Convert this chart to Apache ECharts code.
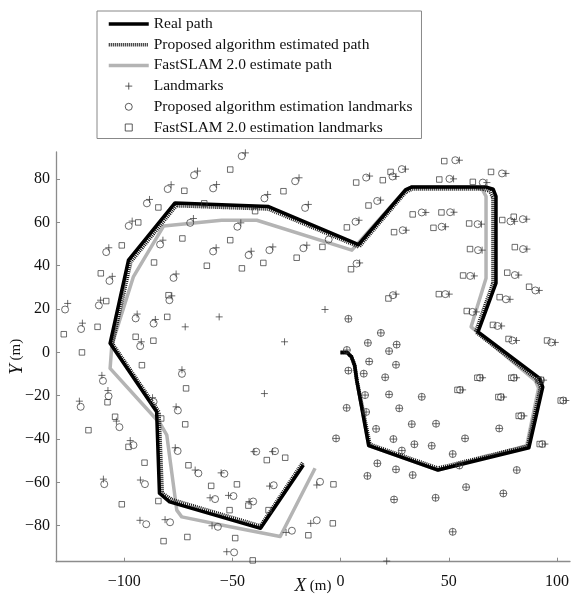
<!DOCTYPE html>
<html>
<head>
<meta charset="utf-8">
<script src="https://cdn.jsdelivr.net/npm/echarts@6.0.0/dist/echarts.min.js"></script>
<style>
  html, body { margin: 0; padding: 0; background: #fff; }
  #chart { width: 571px; height: 602px; }
</style>
</head>
<body>
<div id="chart"></div>
<script>
// path vertices [x, y] in metres
const realPath = [
  [0, 0], [3, 0], [5, -2], [6.5, -6], [7.5, -13], [13, -43], [45, -54.3], [87, -44],
  [93.4, -16], [92, -12], [63.5, 9.5], [71.8, 32], [71.8, 72], [70.5, 75.3], [67, 76.4],
  [33, 76.4], [30, 75], [8.3, 49.8], [-33.3, 67.3], [-76.5, 69], [-98, 42.6], [-106.5, 4.2],
  [-85, -27.4], [-83.7, -65], [-79, -69], [-37, -81.2], [-17.2, -52]
];
const proposedPath = [
  [0, 0], [3, 0], [5, -2], [6.5, -6], [7.5, -13], [13.5, -42.5], [45, -53.5], [86.5, -43.3],
  [92.5, -16], [91, -12.5], [62.5, 9.5], [70.5, 32], [70.5, 71.5], [69, 74.5], [66, 75.5],
  [33, 75.5], [30, 74], [8.5, 48.8], [-33.5, 66.3], [-76, 67.8], [-97, 41.8], [-105.5, 4],
  [-84, -27.5], [-82.5, -65], [-78, -68], [-37, -80.2], [-17.5, -51]
];
const fastslamPath = [
  [0, 0], [3, 0], [5, -2], [6.5, -6], [7.5, -13], [13, -43], [45, -54.3], [86, -43],
  [91.5, -16.5], [90, -13], [60.3, 11.8], [67.2, 34.2], [67.2, 72], [65.5, 75.2], [62, 76.4],
  [33, 76.4], [30, 75], [5.2, 47.2], [-38.7, 61], [-55, 61], [-81.8, 58.3], [-95.7, 35],
  [-105.7, 3.4], [-106.5, -7.4], [-83.4, -32.8], [-80.3, -38.2], [-75.7, -72.8], [-73.4, -75.9],
  [-51, -80.5], [-27.9, -85], [-11.8, -53.5]
];

// true landmarks (+)
const landmarks = [
  [-66.1, 83.7], [-78.3, 77.4], [-57.3, 77.5], [-88.3, 70.6], [-96.3, 60.6], [-68.0, 61.8],
  [-82.1, 51.8], [-107.1, 48.3], [-57.5, 48.3], [-105.5, 35.1], [-76.0, 36.2], [-78.0, 26.1],
  [-126.1, 22.6], [-110.9, 24.1], [-119.3, 13.5], [-94.0, 17.7], [-85.6, 15.2], [-92.1, 4.9],
  [-71.8, 11.8], [-56.1, 16.4], [-25.9, 4.9], [-73.3, -8.0],
  [-44.0, 92.1], [-19.2, 80.6], [-33.7, 72.9], [-14.9, 68.3], [-46.1, 59.8], [-41.3, 46.7],
  [-31.3, 48.7], [-15.6, 49.5], [8.5, 61.0], [13.4, 81.4], [18.5, 70.3], [25.6, 81.2],
  [30.0, 84.6], [8.8, 41.3], [25.6, 26.9], [30.3, 56.4], [-7.2, 19.8], [-35.2, -19.0],
  [54.9, 88.7], [76.4, 82.6], [52.2, 80.1], [67.6, 78.4], [39.4, 64.6], [52.4, 64.7],
  [48.5, 58.0], [65.1, 59.2], [80.4, 60.5], [86.0, 61.5], [65.4, 47.2], [86.1, 47.7],
  [61.8, 35.3], [82.3, 35.7], [91.8, 28.6], [50.2, 26.9], [78.3, 24.5], [62.7, 18.7],
  [74.4, 12.2], [81.3, 5.5], [99.2, 4.6],
  [2.9, 1.1], [3.6, 15.5], [18.6, 9.0], [12.6, 4.4], [25.9, 3.6], [22.4, 0.6], [13.2, -4.2],
  [25.6, -5.7], [3.6, -8.4], [10.7, -9.8], [20.6, -11.5], [11.3, -19.7], [22.4, -19.4],
  [37.5, -20.5], [2.8, -25.6], [11.8, -27.5], [27.1, -25.8], [16.4, -35.3], [32.9, -33.1],
  [44.1, -32.9], [24.4, -40.0], [34.1, -42.4], [42.1, -43.1], [-2.1, -39.7], [28.3, -45.3],
  [57.5, -39.7], [51.8, -46.9], [17.0, -51.2], [25.6, -54.0], [33.3, -56.6], [54.9, -52.2],
  [12.4, -57.0], [58.0, -62.2], [24.7, -67.9], [43.9, -67.1], [75.2, -65.1], [81.4, -54.3],
  [51.8, -82.8], [73.3, -35.1],
  [65.6, -11.7], [81.3, -11.7], [56.4, -17.3], [75.3, -20.6], [84.7, -29.3], [94.4, -42.3],
  [104.1, -22.2], [93.8, -12.8],
  [-110.3, -10.6], [-107.5, -17.6], [-120.7, -22.5], [-86.9, -20.9], [-103.6, -31.7],
  [-76.0, -25.1], [-97.2, -40.7], [-76.4, -44.0], [-67.2, -54.3], [-55.2, -55.6],
  [-109.6, -58.5], [-92.5, -58.9], [-60.3, -67.1], [-51.8, -66.0], [-42.3, -68.8],
  [-92.7, -77.5], [-81.1, -77.2], [-59.4, -80.0], [-52.6, -92.0], [-40.0, -45.8],
  [-31.4, -45.8], [-32.8, -61.7], [-11.0, -61.2], [-13.8, -78.9], [-25.2, -83.1], [21.3, -96.3]
];

// proposed algorithm estimated landmarks (o)
const proposedLandmarks = [
  [-67.7, 81.8], [-79.9, 75.4], [-58.9, 75.7], [-89.5, 68.8], [-97.9, 58.4], [-69.5, 59.8],
  [-83.4, 49.8], [-108.3, 46.3], [-58.9, 46.6], [-106.8, 33.0], [-77.2, 34.4], [-79.1, 24.1],
  [-127.3, 19.8], [-111.7, 21.7], [-119.9, 10.8], [-94.7, 15.7], [-86.4, 13.3], [-92.6, 2.9],
  [-73.3, -9.9],
  [-45.7, 90.6], [-21.0, 79.0], [-35.2, 71.1], [-16.4, 66.7], [-47.7, 58.0], [-42.5, 44.9],
  [-32.9, 47.2], [-17.2, 48.1], [-5.5, 52.1], [6.9, 60.3], [11.8, 80.7], [16.9, 69.9],
  [24.0, 81.2], [28.3, 84.6], [7.4, 41.0], [24.2, 26.4], [28.7, 56.4],
  [53.0, 88.7], [74.6, 82.6], [50.3, 80.1], [65.7, 78.4], [37.5, 64.6], [50.6, 64.7],
  [46.7, 58.0], [63.3, 59.2], [78.5, 60.5], [84.2, 61.5], [63.5, 47.2], [84.3, 47.7],
  [59.9, 35.3], [80.5, 35.7], [90.0, 28.6], [48.4, 26.9], [76.4, 24.5], [60.9, 18.7],
  [72.5, 12.2], [79.4, 5.5], [97.4, 4.6],
  [2.9, 1.1], [3.6, 15.5], [18.6, 9.0], [12.6, 4.4], [25.9, 3.6], [22.4, 0.6], [13.2, -4.2],
  [25.6, -5.7], [3.6, -8.4], [10.7, -9.8], [20.6, -11.5], [11.3, -19.7], [22.4, -19.4],
  [37.5, -20.5], [2.8, -25.6], [11.8, -27.5], [27.1, -25.8], [16.4, -35.3], [32.9, -33.1],
  [44.1, -32.9], [24.4, -40.0], [34.1, -42.4], [42.1, -43.1], [-2.1, -39.7], [28.3, -45.3],
  [57.5, -39.7], [51.8, -46.9], [17.0, -51.2], [25.6, -54.0], [33.3, -56.6], [54.9, -52.2],
  [12.4, -57.0], [58.0, -62.2], [24.7, -67.9], [43.9, -67.1], [75.2, -65.1], [81.4, -54.3],
  [51.8, -82.8], [73.3, -35.1],
  [64.4, -11.7], [80.1, -11.7], [55.2, -17.3], [74.1, -20.6], [83.5, -29.3], [93.2, -42.3],
  [102.9, -22.2], [92.6, -12.8],
  [-109.8, -13.1], [-107.2, -20.2], [-120.1, -25.1], [-86.4, -22.8], [-102.2, -34.5],
  [-75.2, -26.8], [-95.7, -42.8], [-75.3, -45.5], [-65.7, -55.8], [-53.7, -56.0],
  [-109.2, -60.8], [-90.4, -60.8], [-58.0, -67.7], [-49.5, -66.3], [-40.4, -68.8],
  [-89.8, -79.3], [-78.8, -78.4], [-56.7, -80.5], [-49.2, -92.3], [-39.0, -45.8],
  [-30.3, -45.6], [-30.9, -61.3], [-9.5, -59.7], [-11.0, -77.5], [-22.5, -82.3]
];

// FastSLAM 2.0 estimated landmarks (square)
const fastslamLandmarks = [
  [-51.0, 84.4], [-72.2, 74.6], [-84.2, 66.9], [-63.0, 68.8], [-93.5, 60.0], [-51.0, 51.8],
  [-73.1, 52.6], [-101.1, 49.4], [-86.2, 41.5], [-61.8, 40.0], [-110.8, 36.5], [-79.5, 26.4],
  [-127.9, 8.4], [-112.3, 11.8], [-108.3, 23.7], [-80.1, 16.4], [-94.7, 7.2], [-86.5, 5.4],
  [-119.5, 0.0],
  [-26.4, 74.4], [-39.5, 65.2], [-45.6, 38.8], [-35.7, 41.3], [-20.3, 43.7], [-8.4, 48.7],
  [2.9, 57.7], [7.2, 78.4], [19.5, 79.5], [23.1, 83.3], [12.9, 67.8], [4.8, 38.4],
  [22.1, 24.9], [24.7, 55.5],
  [47.9, 88.3], [69.5, 83.3], [45.6, 79.8], [61.1, 78.7], [33.3, 63.7], [46.6, 64.6],
  [42.9, 57.5], [59.4, 59.5], [74.7, 61.1], [80.0, 62.6], [59.8, 47.7], [80.5, 48.6],
  [56.6, 35.5], [77.0, 36.8], [87.1, 30.3], [45.4, 26.9], [73.5, 25.5], [58.3, 19.1],
  [70.4, 12.7], [77.6, 6.2], [95.4, 5.5],
  [63.2, -11.7], [78.9, -11.7], [54.0, -17.3], [72.9, -20.6], [82.3, -29.3], [92.0, -42.3],
  [101.7, -22.2], [91.4, -12.8],
  [-91.8, -5.9], [-71.4, -16.6], [-107.7, -23.0], [-116.5, -35.9], [-104.2, -29.7],
  [-82.9, -30.5], [-71.8, -33.2], [-98.0, -43.6], [-90.6, -50.9], [-70.3, -52.1],
  [-59.8, -61.6], [-47.9, -60.9], [-84.2, -68.6], [-101.1, -70.1], [-51.3, -72.8],
  [-42.6, -70.7], [-34.1, -49.7], [-25.6, -48.6], [-33.3, -72.8], [-81.8, -87.1],
  [-70.8, -85.2], [-48.7, -85.7], [-40.6, -96.0], [-3.3, -60.9], [-3.6, -78.9], [-14.9, -84.4]
];

const xTicks = [-100, -50, 0, 50, 100];
const yTicks = [-80, -60, -40, -20, 0, 20, 40, 60, 80];

const seriesNames = [
  'Real path',
  'Proposed algorithm estimated path',
  'FastSLAM 2.0 estimate path',
  'Landmarks',
  'Proposed algorithm estimation landmarks',
  'FastSLAM 2.0 estimation landmarks'
];

const FONT = '"Liberation Serif", "Times New Roman", serif';
const AXIS_GRAY = '#8c8c8c';
const MARK = '#333';
const plusSymbol = 'path://M0,5H10M5,0V10';
const squareSymbol = 'path://M0,0H10V10H0Z';
const minus = (v) => String(v).replace('-', '\u2212');

const chart = echarts.init(document.getElementById('chart'), null, { renderer: 'canvas' });

const option = {
  animation: false,
  backgroundColor: '#fff',
  grid: { left: 56, top: 152, width: 514, height: 409.7, containLabel: false, outerBoundsMode: 'none' },
  legend: {
    orient: 'vertical',
    left: 97,
    top: 11,
    padding: [5, 9, 3, 10],
    itemWidth: 40,
    itemHeight: 7,
    itemGap: 4.7,
    borderColor: '#888',
    borderWidth: 1,
    backgroundColor: '#fff',
    selectedMode: false,
    textStyle: { fontFamily: FONT, fontSize: 15.5, lineHeight: 16, color: '#111' },
    data: [
      { name: seriesNames[0], lineStyle: { width: 3.5 }, itemStyle: { opacity: 0 } },
      { name: seriesNames[1], lineStyle: { width: 3.5 }, itemStyle: { opacity: 0 } },
      { name: seriesNames[2], lineStyle: { width: 3.5 }, itemStyle: { opacity: 0 } },
      { name: seriesNames[3], itemStyle: { borderWidth: 1 } },
      { name: seriesNames[4], itemStyle: { borderWidth: 1 } },
      { name: seriesNames[5], icon: squareSymbol, itemStyle: { borderWidth: 1 } }
    ]
  },
  xAxis: {
    type: 'value',
    min: -131.5,
    max: 106,
    name: '{i|X} (m)',
    nameLocation: 'middle',
    nameGap: 15,
    nameMoveOverlap: false,
    nameTextStyle: {
      fontFamily: FONT, fontSize: 15, color: '#111',
      rich: { i: { fontFamily: FONT, fontStyle: 'italic', fontSize: 19, color: '#111' } }
    },
    axisLine: { onZero: false, lineStyle: { color: AXIS_GRAY, width: 1.3 } },
    axisTick: { inside: true, length: 4, customValues: xTicks, lineStyle: { color: AXIS_GRAY } },
    axisLabel: {
      customValues: xTicks, margin: 12, fontFamily: FONT, fontSize: 16, color: '#111',
      formatter: minus
    },
    splitLine: { show: false }
  },
  yAxis: {
    type: 'value',
    min: -96.6,
    max: 92.5,
    name: '{i|Y} (m)',
    nameLocation: 'middle',
    nameGap: 30,
    nameRotate: 90,
    nameMoveOverlap: false,
    nameTextStyle: {
      fontFamily: FONT, fontSize: 15, color: '#111',
      rich: { i: { fontFamily: FONT, fontStyle: 'italic', fontSize: 19, color: '#111' } }
    },
    axisLine: { onZero: false, lineStyle: { color: AXIS_GRAY, width: 1.3 } },
    axisTick: { inside: true, length: 4, customValues: yTicks, lineStyle: { color: AXIS_GRAY } },
    axisLabel: {
      customValues: yTicks, margin: 6, fontFamily: FONT, fontSize: 16, color: '#111',
      formatter: minus
    },
    splitLine: { show: false }
  },
  series: [
    {
      name: seriesNames[2],
      type: 'line',
      data: fastslamPath,
      symbol: 'none',
      z: 2,
      lineStyle: { color: '#b4b4b4', width: 3.5, join: 'round' }
    },
    {
      name: seriesNames[1],
      type: 'line',
      data: proposedPath,
      symbol: 'none',
      z: 3,
      lineStyle: { color: '#111', width: 4, type: [1, 1], cap: 'butt' }
    },
    {
      name: seriesNames[0],
      type: 'line',
      data: realPath,
      symbol: 'none',
      z: 4,
      lineStyle: { color: '#000', width: 3.5, join: 'round' }
    },
    {
      name: seriesNames[3],
      type: 'scatter',
      data: landmarks,
      symbol: plusSymbol,
      symbolSize: 7,
      z: 6,
      itemStyle: { color: 'rgba(0,0,0,0)', borderColor: MARK, borderWidth: 0.9 }
    },
    {
      name: seriesNames[4],
      type: 'scatter',
      data: proposedLandmarks,
      symbol: 'circle',
      symbolSize: 7,
      z: 6,
      itemStyle: { color: 'rgba(0,0,0,0)', borderColor: MARK, borderWidth: 0.9 }
    },
    {
      name: seriesNames[5],
      type: 'scatter',
      data: fastslamLandmarks,
      symbol: squareSymbol,
      symbolSize: 5.5,
      z: 6,
      itemStyle: { color: 'rgba(0,0,0,0)', borderColor: MARK, borderWidth: 0.9 }
    }
  ]
};

chart.setOption(option);
window.addEventListener('resize', () => chart.resize());
</script>
</body>
</html>
